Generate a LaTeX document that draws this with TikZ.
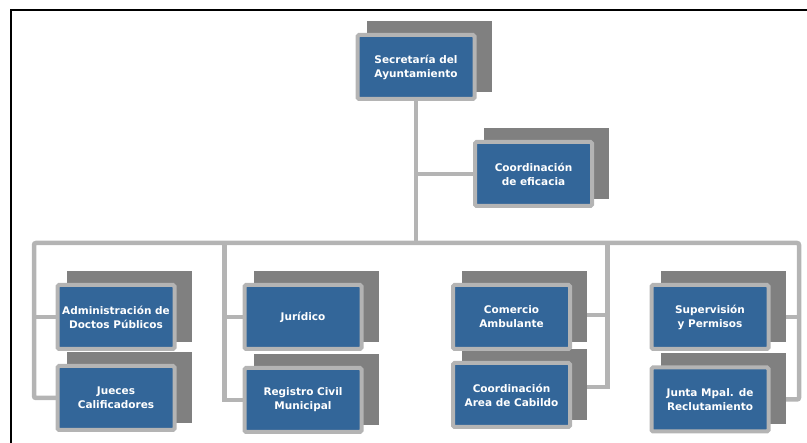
\documentclass[tikz,border=0pt]{standalone}
\usepackage{fontspec}
\newfontfamily\boxfont{DejaVu Sans}
\usetikzlibrary{calc}
\pgfdeclarelayer{lines}
\pgfdeclarelayer{shades}
\pgfsetlayers{lines,shades,main}
\definecolor{boxblue}{HTML}{336699}
\definecolor{rimgray}{HTML}{B4B4B4}
\definecolor{shadegray}{HTML}{808080}
\definecolor{linegray}{HTML}{B4B4B4}

\begin{document}
\begin{tikzpicture}[x=1pt,y=-1pt,
  unit/.style={draw=rimgray, line width=4pt, fill=boxblue, rounded corners=1.5pt,
    minimum width=117pt, minimum height=64pt, inner sep=0pt, outer sep=0pt,
    text=white, align=center,
    font=\boxfont\bfseries\fontsize{10.5}{14}\selectfont},
  conn/.style={draw=linegray, line width=4.5pt},
  frame/.style={draw=black, line width=1.8pt}]
\useasboundingbox (0,0) rectangle (807,443);

% outer frame (left and top edges only)
\draw[frame] (11,443) -- (11,10) -- (807,10);

% units
\node[unit] (sec) at (416,67)    {Secretaría del\\Ayuntamiento};
\node[unit] (efi) at (533.5,174) {Coordinación\\de eficacia};
\node[unit] (adm) at (116,317)   {Administración de\\Doctos Públicos};
\node[unit] (jue) at (116,398)   {Jueces\\Calificadores};
\node[unit] (jur) at (303,317)   {Jurídico};
\node[unit] (reg) at (303,400)   {Registro Civil\\Municipal};
\node[unit] (com) at (511.5,317) {Comercio\\Ambulante};
\node[unit] (cab) at (511.5,395) {Coordinación\\Area de Cabildo};
\node[unit] (sup) at (710,317)   {Supervisión\\y Permisos};
\node[unit] (jun) at (710,399.5) {Junta Mpal. de\\Reclutamiento};

% offset shadows behind every unit
\begin{pgfonlayer}{shades}
\foreach \n in {sec,efi,adm,jue,jur,reg,com,cab,sup,jun}
  \fill[shadegray] ($(\n.north west)+(9,-14)$) rectangle ($(\n.south east)+(17,-7)$);
\end{pgfonlayer}

% bus junctions
\coordinate (bl) at (34,243);
\coordinate (br) at (799,243);
\coordinate (c2) at (224.5,243);
\coordinate (c3) at (607.5,243);

% connectors
\begin{pgfonlayer}{lines}
\draw[conn] (sec.south) -- (sec.south |- bl);
\draw[conn] (efi.west) -- (efi.west -| sec.south);
\draw[conn, rounded corners=2pt] (jue.west) -| (bl) -- (br) |- (jun.east);
\draw[conn] (adm.west) -- (adm.west -| bl);
\draw[conn] (c2) |- (reg.west);
\draw[conn] (jur.west) -- (jur.west -| c2);
\draw[conn] (c3) |- ($(cab.east)+(0,-8)$);
\draw[conn] ($(com.east)+(0,-2)$) -- ($(com.east -| c3)+(0,-2)$);
\draw[conn] (sup.east) -- (sup.east -| br);
\end{pgfonlayer}
\end{tikzpicture}
\end{document}
